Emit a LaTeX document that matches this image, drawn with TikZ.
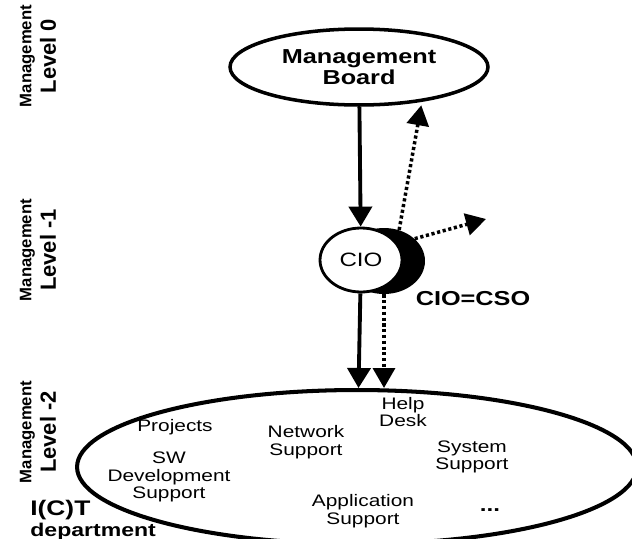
\documentclass[tikz,border=0pt]{standalone}
\usepackage{fontspec}
\setmainfont{Liberation Sans}[FakeStretch=1.25]
\newfontfamily\lvlfont{Liberation Sans}
\usetikzlibrary{arrows.meta,shapes.geometric}

\begin{document}
\begin{tikzpicture}[x=0.02cm, y=-0.02cm,
  unit/.style={ellipse, draw, line width=2pt, inner sep=0pt, align=center},
  lbl/.style={align=center, inner sep=0pt, font=\fontsize{9.5}{10}\selectfont},
  lvl/.style={rotate=90, align=center, inner sep=0pt, font=\lvlfont\bfseries},
  solidarrow/.style={line width=2.2pt, -{Triangle[width=0.46cm,length=0.4cm]}},
  dotarrow/.style={line width=2pt, dash pattern=on 1.8pt off 1.5pt, -{Triangle[width=0.44cm,length=0.4cm]}}]
\useasboundingbox (0,0) rectangle (632,538);
% management levels
\node[lvl] (lvl0) at (38,56) {\fontsize{9.5}{10}\selectfont Management\\[2pt]\fontsize{12.5}{13}\selectfont Level 0};
\node[lvl] (lvl1) at (38,250) {\fontsize{9.5}{10}\selectfont Management\\[2pt]\fontsize{12.5}{13}\selectfont Level -1};
\node[lvl] (lvl2) at (38,432) {\fontsize{9.5}{10}\selectfont Management\\[2pt]\fontsize{12.5}{13}\selectfont Level -2};
% units
\node[unit, minimum width=5.16cm, minimum height=1.52cm, font=\fontsize{11.5}{12}\selectfont\bfseries] (board) at (359,67) {Management\\Board};
\node[ellipse, fill=black, minimum width=1.64cm, minimum height=1.32cm] (cso) at (384,261) {};
\node[unit, fill=white, line width=1.6pt, minimum width=1.64cm, minimum height=1.28cm, font=\fontsize{11}{12}\selectfont] (cio) at (361,260) {CIO};
\node[font=\fontsize{11.5}{12}\selectfont\bfseries] (cioeq) at (473,299) {CIO=CSO};
\node[unit, line width=2.3pt, minimum width=11.2cm, minimum height=3.08cm] (ict) at (357,467) {};
% inside the department
\node[lbl] (help) at (403,412) {Help\\Desk};
\node[lbl] (proj) at (175,427) {Projects};
\node[lbl] (net) at (306,442) {Network\\Support};
\node[lbl] (sw) at (169,477) {SW\\Development\\Support};
\node[lbl] (sys) at (472,457) {System\\Support};
\node[lbl] (app) at (363,511) {Application\\Support};
\node[lbl, font=\fontsize{11}{12}\selectfont\bfseries] (more) at (490,510) {...};
\node[anchor=north west, inner sep=0pt, align=left] (dept) at (30,500) {\fontsize{12}{13}\selectfont\bfseries I(C)T\\\fontsize{10.5}{13}\selectfont\bfseries department};
% reporting lines
\coordinate (out) at (486,219);
\draw[solidarrow] (board) -- (cio);
\draw[solidarrow] (cio) -- (ict);
\draw[dotarrow, shorten >=2pt] (cso.64) -- (board.-29);
\draw[dotarrow] (cso.36) -- (out);
\draw[dotarrow] (cso.south) -- (cso.south |- ict.north);
\end{tikzpicture}
\end{document}
